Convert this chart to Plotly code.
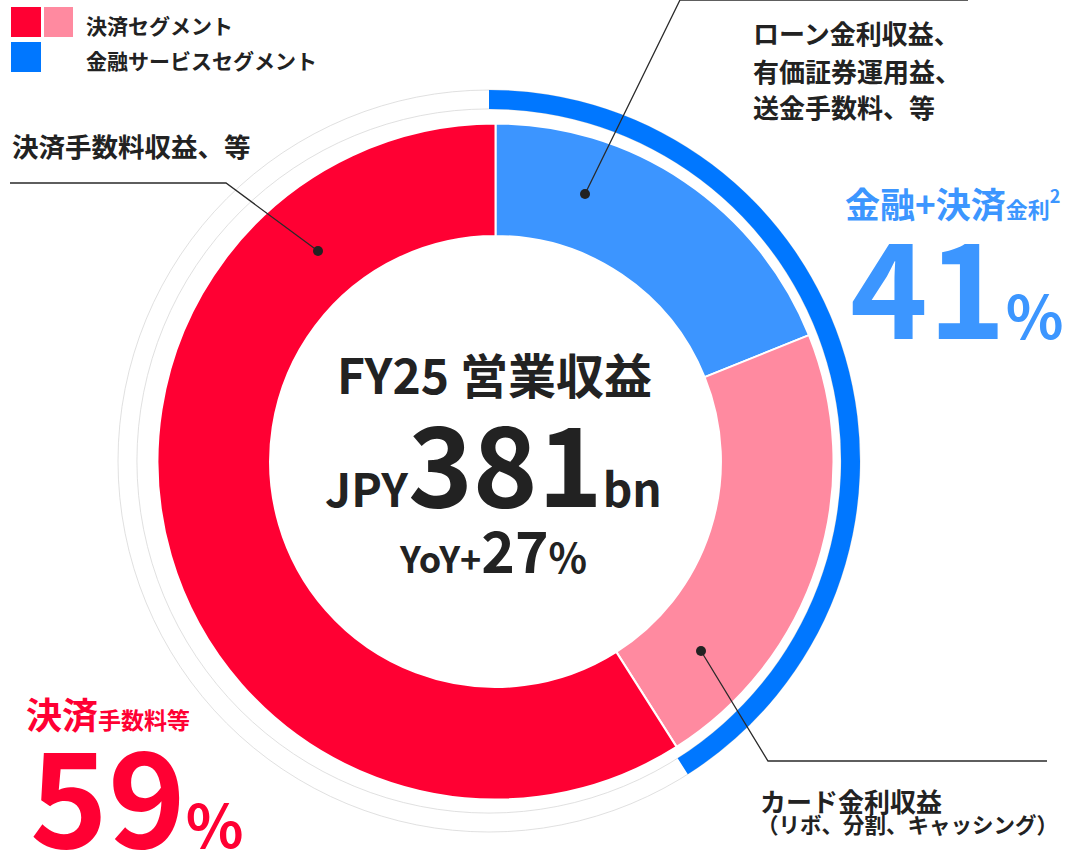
import plotly.graph_objects as go

W, H = 1084, 850
FONT = "Noto Sans CJK JP"
DARK = "#222222"

# ---- data (clockwise from 12 o'clock) ----
segments = ["ローン金利・有価証券運用・送金手数料", "カード金利収益", "決済手数料収益"]
shares = [18.9, 22.1, 59.0]
seg_colors = ["#3C95FF", "#FF8AA0", "#FF0033"]

group_labels = ["金融+決済金利", "決済手数料等"]
group_shares = [41, 59]

fiscal_year = "FY25"
revenue_bn = 381
yoy_pct = 27

legend_labels = ["決済セグメント", "金融サービスセグメント"]
callout_top = ["ローン金利収益、", "有価証券運用益、", "送金手数料、等"]
callout_left = "決済手数料収益、等"
callout_bottom = ["カード金利収益", "（リボ、分割、キャッシング）"]

# ---- layout geometry (pixels) ----
donut_c, donut_r, donut_hole = (495.5, 461.5), 338, 0.667
ring_c, ring_r, ring_hole = (489, 461), 371, 0.949


def px(x):
    return x / W


def py(y):
    return 1 - y / H


def domain(c, r):
    return dict(x=[px(c[0] - r), px(c[0] + r)], y=[py(c[1] + r), py(c[1] - r)])


fig = go.Figure()

# faint outline of the outer ring
fig.add_trace(go.Pie(values=[1], domain=domain(ring_c, ring_r), hole=ring_hole,
                     marker=dict(colors=["rgba(0,0,0,0)"], line=dict(color="#d8d8d8", width=0.8)),
                     textinfo="none", hoverinfo="skip", showlegend=False, sort=False))

# outer ring: finance + payment interest share
fig.add_trace(go.Pie(labels=group_labels, values=group_shares, domain=domain(ring_c, ring_r),
                     hole=ring_hole, sort=False, direction="clockwise", rotation=0,
                     marker=dict(colors=["#0077FF", "rgba(0,0,0,0)"], line=dict(width=0)),
                     textinfo="none", hoverinfo="skip", showlegend=False))

# main donut
fig.add_trace(go.Pie(labels=segments, values=shares, domain=domain(donut_c, donut_r),
                     hole=donut_hole, sort=False, direction="clockwise", rotation=0,
                     marker=dict(colors=seg_colors, line=dict(color="white", width=2)),
                     textinfo="none", hoverinfo="skip", showlegend=False))

shapes = []

# leader lines with dots
leaders = [
    [(585, 194), (680, 0), (968, 0)],
    [(318, 251), (226, 183), (10, 183)],
    [(701, 651), (768, 761), (1047, 761)],
]
for pts in leaders:
    path = "M " + " L ".join(f"{px(x)},{py(y)}" for x, y in pts)
    shapes.append(dict(type="path", path=path, xref="paper", yref="paper", layer="above",
                       line=dict(color="#2a2a2a", width=1.3)))
    x, y = pts[0]
    shapes.append(dict(type="circle", xref="paper", yref="paper", layer="above",
                       x0=px(x - 5), x1=px(x + 5), y0=py(y + 5), y1=py(y - 5),
                       fillcolor="#222222", line=dict(width=0)))

# legend squares
for (x0, y0, x1, y1), col in [((11, 7, 41, 37), "#FF0033"), ((44, 7, 73, 37), "#FF8AA0"),
                              ((11, 42, 41, 72), "#0077FF")]:
    shapes.append(dict(type="rect", xref="paper", yref="paper", x0=px(x0), x1=px(x1),
                       y0=py(y1), y1=py(y0), fillcolor=col, line=dict(width=0)))


def label(x, y, text, size, color=DARK, xanchor="left"):
    return dict(x=px(x), y=py(y), xref="paper", yref="paper", text=text, showarrow=False,
                xanchor=xanchor, yanchor="middle", align="left",
                font=dict(family=FONT, size=size, color=color, weight=700))


RED = "#FF0033"
BLUE = "#3C96FF"
annotations = [
    label(84, 25, legend_labels[0], 21),
    label(84, 60, legend_labels[1], 21),
    label(10, 145, callout_left, 26.5),
    label(751, 33, callout_top[0], 26),
    label(751, 70, callout_top[1], 26),
    label(751, 107, callout_top[2], 26),
    label(758, 800, callout_bottom[0], 26),
    label(755, 823, callout_bottom[1], 21.5),
    # center
    label(494, 373, f"{fiscal_year} 営業収益", 48, xanchor="center"),
    label(493, 459, f"<span style='font-size:46px'>JPY</span>{revenue_bn}"
                    f"<span style='font-size:46px'>bn</span>", 110, xanchor="center"),
    label(493, 548, f"<span style='font-size:36px'>YoY+</span>{yoy_pct}"
                    f"<span style='font-size:40px'>%</span>", 57, xanchor="center"),
    # finance share
    label(843, 202, "金融+決済<span style='font-size:22px'>金利</span>"
                    "<sup><span style='font-size:18px'>2</span></sup>", 35, color=BLUE),
    label(848, 281, f"{group_shares[0]}<span style='font-size:60px'>%</span>", 132, color=BLUE),
    # payment share
    label(24, 713, "決済<span style='font-size:23px'>手数料等</span>", 36, color=RED),
    label(28, 790, f"{group_shares[1]}<span style='font-size:60px'>%</span>", 132, color=RED),
]

fig.update_layout(width=W, height=H, margin=dict(l=0, r=0, t=0, b=0),
                  paper_bgcolor="white", plot_bgcolor="white",
                  shapes=shapes, annotations=annotations, showlegend=False)

fig.write_html("out.html", config={"displayModeBar": False},
               post_script="document.body.style.margin='0';")
